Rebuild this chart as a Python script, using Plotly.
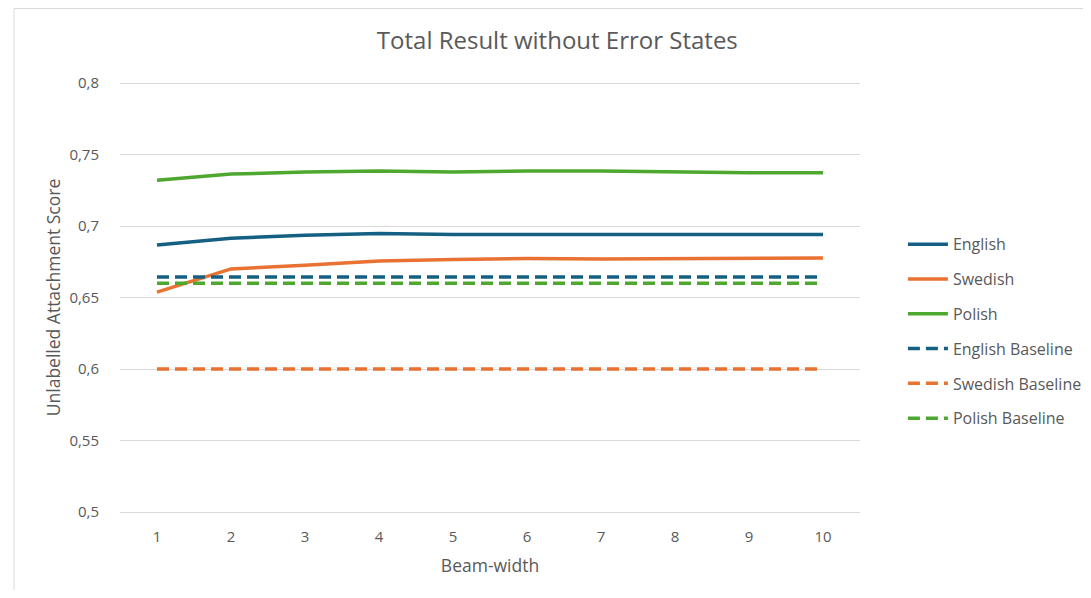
import plotly.graph_objects as go

beam_width = [1, 2, 3, 4, 5, 6, 7, 8, 9, 10]
english = [0.6867, 0.6915, 0.6936, 0.6947, 0.6940, 0.6940, 0.6936, 0.6940, 0.6940, 0.6940]
swedish = [0.6538, 0.6700, 0.6725, 0.6755, 0.6765, 0.6772, 0.6770, 0.6770, 0.6776, 0.6776]
polish = [0.7320, 0.7363, 0.7377, 0.7384, 0.7377, 0.7384, 0.7384, 0.7377, 0.7373, 0.7373]
english_baseline = [0.6643] * 10
swedish_baseline = [0.6000] * 10
polish_baseline = [0.6600] * 10

y_ticks = [0.5, 0.55, 0.6, 0.65, 0.7, 0.75, 0.8]

C_EN = "#156082"
C_SV = "#E97132"
C_PL = "#4EA72E"
TXT = "#595959"
FONT = "Open Sans, Roboto, sans-serif"

fig = go.Figure()
series = [
    ("English", english, C_EN, "solid"),
    ("Swedish", swedish, C_SV, "solid"),
    ("Polish", polish, C_PL, "solid"),
    ("English Baseline", english_baseline, C_EN, "12px,6px"),
    ("Swedish Baseline", swedish_baseline, C_SV, "12px,6px"),
    ("Polish Baseline", polish_baseline, C_PL, "12px,6px"),
]
for name, vals, col, dash in series:
    fig.add_trace(go.Scatter(
        x=beam_width, y=vals, name=name, mode="lines", legendgroup=name,
        line=dict(color=col, width=3.5, dash=dash),
    ))

fig.update_layout(
    width=1075, height=582,
    margin=dict(l=112, r=223, t=73, b=76, autoexpand=False),
    paper_bgcolor="white", plot_bgcolor="white",
    separators=",.",
    font=dict(family=FONT, color=TXT, size=15),
    title=dict(text="Total Result without Error States", x=0.511, xanchor="center",
               xref="container", y=1 - 33 / 582, yanchor="middle",
               font=dict(size=24, color=TXT, family=FONT)),
    showlegend=True,
    legend=dict(x=1.058, xanchor="left", y=0.422, yanchor="middle",
                font=dict(size=16, color=TXT, family=FONT), tracegroupgap=11,
                itemwidth=40, bgcolor="rgba(0,0,0,0)"),
    xaxis=dict(range=[0.5, 10.5], tickvals=beam_width, ticktext=[str(b) for b in beam_width],
               showgrid=False, zeroline=False, showline=False, ticks="",
               ticklabelstandoff=12,
               title=dict(text="Beam-width", font=dict(size=17.5, color=TXT), standoff=14),
               tickfont=dict(size=15, color=TXT), fixedrange=True),
    yaxis=dict(range=[0.4986, 0.8014], tickvals=y_ticks, showgrid=True, gridcolor="#D9D9D9",
               gridwidth=1, zeroline=False, showline=False, ticks="",
               ticklabelstandoff=20,
               title=dict(text="Unlabelled Attachment Score", font=dict(size=17.5, color=TXT), standoff=4),
               tickfont=dict(size=15, color=TXT), fixedrange=True),
)

fig.add_shape(type="line", xref="paper", yref="paper", x0=-0.1432, x1=1.4, y0=1.1674, y1=1.1674,
              line=dict(color="#D9D9D9", width=1))
fig.add_shape(type="line", xref="paper", yref="paper", x0=-0.1432, x1=-0.1432, y0=1.1674, y1=-0.3,
              line=dict(color="#D9D9D9", width=1))

fig.write_html("out.html")
